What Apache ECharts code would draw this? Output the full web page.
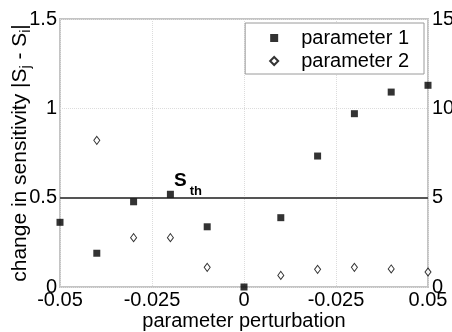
<!DOCTYPE html>
<html>
<head>
<meta charset="utf-8">
<script src="https://cdn.jsdelivr.net/npm/echarts@6/dist/echarts.min.js"></script>
<style>
  html, body { margin: 0; padding: 0; background: #fff; }
  #chart { width: 452px; height: 332px; }
</style>
</head>
<body>
<div id="chart"></div>
<script>
// perturbation values on the x axis
const perturbation = [-0.05, -0.04, -0.03, -0.02, -0.01, 0, 0.01, 0.02, 0.03, 0.04, 0.05];
// change in sensitivity
const param1 = [0.362, 0.189, 0.477, 0.519, 0.337, 0, 0.388, 0.733, 0.970, 1.091, 1.129];
const param2X = [-0.04, -0.03, -0.02, -0.01, 0.01, 0.02, 0.03, 0.04, 0.05];
const param2 = [0.821, 0.276, 0.276, 0.110, 0.065, 0.099, 0.110, 0.101, 0.084];
// tick labels as printed (the 0.025 one carries a minus sign in the original)
const xTickLabels = ["-0.05", "-0.025", "0", "-0.025", "0.05"];
const threshold = 0.5;

const font = "Liberation Sans";
const chart = echarts.init(document.getElementById("chart"));

chart.setOption({
  animation: false,
  textStyle: { fontFamily: font, color: "#000" },
  grid: {
    left: 60, right: 24, top: 19, bottom: 45,
    outerBoundsMode: "none",
    containLabel: false,
    show: true, borderColor: "#c4c4c4", borderWidth: 2
  },
  legend: {
    orient: "vertical",
    right: 28, top: 23,
    padding: [5, 15, 3, 24],
    itemWidth: 8, itemHeight: 8, itemGap: 3,
    borderColor: "#9a9a9a", borderWidth: 1,
    backgroundColor: "#fff",
    textStyle: { fontFamily: font, fontSize: 20, color: "#000", padding: [0, 0, 0, 18] },
    data: ["parameter 1", "parameter 2"]
  },
  xAxis: {
    type: "value",
    min: -0.05, max: 0.05, interval: 0.025,
    name: "parameter perturbation",
    nameLocation: "middle",
    nameGap: 24,
    nameMoveOverlap: false,
    nameTextStyle: { fontFamily: font, fontSize: 20, color: "#000" },
    axisLine: { show: false },
    axisTick: { show: false },
    axisLabel: {
      margin: 3, fontSize: 20, color: "#000", fontFamily: font,
      formatter: v => xTickLabels[Math.round((v + 0.05) / 0.025)]
    },
    splitLine: { show: true, lineStyle: { type: "dotted", color: "#dcdcdc" } }
  },
  yAxis: [
    {
      type: "value",
      min: 0, max: 1.5, interval: 0.5,
      name: "change in sensitivity |S{sub|j} - S{sub|i}|",
      nameLocation: "middle",
      nameGap: 27,
      nameMoveOverlap: false,
      nameTextStyle: {
        fontFamily: font, fontSize: 21, color: "#000",
        rich: { sub: { fontSize: 14, fontFamily: font, color: "#000", padding: [11, 0, 0, 0] } }
      },
      axisLine: { show: false },
      axisTick: { show: false },
      axisLabel: { margin: 3, fontSize: 20, color: "#000", fontFamily: font },
      splitLine: { show: true, lineStyle: { type: "dotted", color: "#dcdcdc" } }
    },
    {
      type: "value",
      min: 0, max: 15, interval: 5,
      position: "right",
      axisLine: { show: false },
      axisTick: { show: false },
      axisLabel: { margin: 4, fontSize: 20, color: "#000", fontFamily: font },
      splitLine: { show: false }
    }
  ],
  series: [
    {
      name: "threshold",
      type: "line",
      data: [],
      markLine: {
        silent: true,
        symbol: "none",
        label: { show: false },
        lineStyle: { color: "#555", width: 2, type: "solid" },
        data: [{ yAxis: threshold }]
      },
      markPoint: {
        silent: true,
        symbol: "circle",
        symbolSize: 0,
        label: {
          show: true,
          position: "top",
          distance: 0,
          formatter: "{s|S}{t|th}",
          rich: {
            s: { fontFamily: font, fontSize: 19, fontWeight: "bold", color: "#000", verticalAlign: "bottom", padding: [0, 3, 7, 0] },
            t: { fontFamily: font, fontSize: 13, fontWeight: "bold", color: "#000", verticalAlign: "bottom" }
          }
        },
        data: [{ coord: [-0.0152, threshold] }]
      }
    },
    {
      name: "parameter 1",
      type: "scatter",
      symbol: "rect",
      symbolSize: 7,
      itemStyle: { color: "#000" },
      data: perturbation.map((x, i) => [x, param1[i]]),
      z: 5
    },
    {
      name: "parameter 2",
      type: "scatter",
      symbol: "diamond",
      symbolSize: [6, 8],
      itemStyle: { color: "#fff", borderColor: "#000", borderWidth: 1 },
      data: param2X.map((x, i) => [x, param2[i]]),
      z: 5
    }
  ]
});
</script>
</body>
</html>
